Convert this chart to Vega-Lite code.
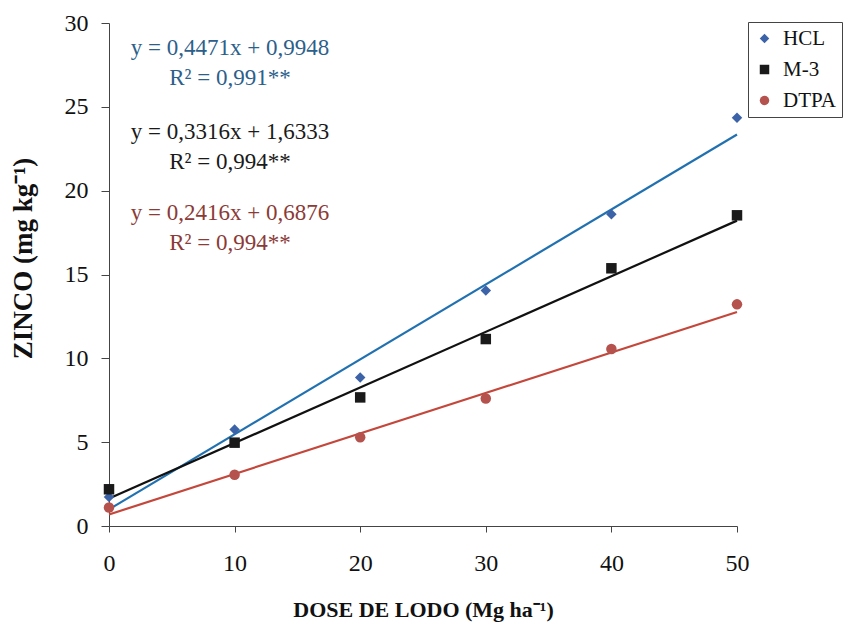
{
  "$schema": "https://vega.github.io/schema/vega-lite/v6.json",
  "width": 628,
  "height": 503,
  "autosize": {"type": "none"},
  "padding": {"left": 109, "top": 23, "right": 107, "bottom": 100},
  "background": "white",
  "config": {
    "view": {"stroke": null},
    "font": "Liberation Serif",
    "axis": {"grid": false, "domainColor": "#444", "tickColor": "#444", "labelColor": "#111", "titleColor": "#111", "labelFont": "Liberation Serif", "titleFont": "Liberation Serif", "labelFlush": false}
  },
  "datasets": {
    "pontos": [
      {"dose": 0, "zinco": 1.73, "extrator": "HCL"},
      {"dose": 10, "zinco": 5.75, "extrator": "HCL"},
      {"dose": 20, "zinco": 8.85, "extrator": "HCL"},
      {"dose": 30, "zinco": 14.05, "extrator": "HCL"},
      {"dose": 40, "zinco": 18.6, "extrator": "HCL"},
      {"dose": 50, "zinco": 24.35, "extrator": "HCL"},
      {"dose": 0, "zinco": 2.19, "extrator": "M-3"},
      {"dose": 10, "zinco": 4.97, "extrator": "M-3"},
      {"dose": 20, "zinco": 7.67, "extrator": "M-3"},
      {"dose": 30, "zinco": 11.15, "extrator": "M-3"},
      {"dose": 40, "zinco": 15.37, "extrator": "M-3"},
      {"dose": 50, "zinco": 18.53, "extrator": "M-3"},
      {"dose": 0, "zinco": 1.1, "extrator": "DTPA"},
      {"dose": 10, "zinco": 3.06, "extrator": "DTPA"},
      {"dose": 20, "zinco": 5.29, "extrator": "DTPA"},
      {"dose": 30, "zinco": 7.6, "extrator": "DTPA"},
      {"dose": 40, "zinco": 10.56, "extrator": "DTPA"},
      {"dose": 50, "zinco": 13.22, "extrator": "DTPA"}
    ],
    "ajuste": [
      {"dose": 0, "zinco": 0.9948, "extrator": "HCL"},
      {"dose": 50, "zinco": 23.3498, "extrator": "HCL"},
      {"dose": 0, "zinco": 1.6333, "extrator": "M-3"},
      {"dose": 50, "zinco": 18.2133, "extrator": "M-3"},
      {"dose": 0, "zinco": 0.6876, "extrator": "DTPA"},
      {"dose": 50, "zinco": 12.7676, "extrator": "DTPA"}
    ]
  },
  "layer": [
    {
      "data": {"name": "ajuste"},
      "transform": [{"filter": "datum.extrator === 'HCL'"}],
      "mark": {"type": "line", "strokeWidth": 2.2, "color": "#2171b0"},
      "encoding": {
        "x": {"field": "dose", "type": "quantitative", "scale": {"domain": [0, 50], "nice": false, "zero": false},
          "axis": {"values": [0, 10, 20, 30, 40, 50], "tickSize": 6, "labelPadding": 19, "labelFontSize": 24, "title": "DOSE DE LODO (Mg ha⁻¹)", "titleFontSize": 22, "titleFontWeight": "bold", "titlePadding": 24}},
        "y": {"field": "zinco", "type": "quantitative", "scale": {"domain": [0, 30], "nice": false},
          "axis": {"values": [0, 5, 10, 15, 20, 25, 30], "tickSize": 8, "labelPadding": 13, "labelFontSize": 24, "title": "ZINCO (mg kg⁻¹)", "titleFontSize": 27, "titleFontWeight": "bold", "titlePadding": 27, "titleY": 235}}
      }
    },
    {
      "data": {"name": "ajuste"},
      "transform": [{"filter": "datum.extrator === 'M-3'"}],
      "mark": {"type": "line", "strokeWidth": 2.2, "color": "#111111"},
      "encoding": {
        "x": {"field": "dose", "type": "quantitative"},
        "y": {"field": "zinco", "type": "quantitative"}
      }
    },
    {
      "data": {"name": "ajuste"},
      "transform": [{"filter": "datum.extrator === 'DTPA'"}],
      "mark": {"type": "line", "strokeWidth": 2.2, "color": "#c4473c"},
      "encoding": {
        "x": {"field": "dose", "type": "quantitative"},
        "y": {"field": "zinco", "type": "quantitative"}
      }
    },
    {
      "data": {"name": "pontos"},
      "mark": {"type": "point", "filled": true, "opacity": 1, "size": 110},
      "encoding": {
        "x": {"field": "dose", "type": "quantitative"},
        "y": {"field": "zinco", "type": "quantitative"},
        "color": {"field": "extrator", "type": "nominal", "scale": {"domain": ["HCL", "M-3", "DTPA"], "range": ["#3c62a8", "#1a1a1a", "#b5524d"]},
          "legend": {"title": null, "orient": "none", "legendX": 639, "legendY": -1, "labelFontSize": 21, "labelFont": "Liberation Serif", "labelColor": "#111", "symbolSize": 90, "rowPadding": 9, "padding": 6, "labelOffset": 8, "strokeColor": "#444", "fillColor": "white"}},
        "shape": {"field": "extrator", "type": "nominal", "scale": {"domain": ["HCL", "M-3", "DTPA"], "range": ["diamond", "square", "circle"]}}
      }
    },
    {
      "data": {"values": [{}]},
      "mark": {"type": "text", "align": "center", "baseline": "middle", "fontSize": 23, "lineHeight": 30, "color": "#2d5f8b", "text": ["y = 0,4471x + 0,9948", "R² = 0,991**"]},
      "encoding": {"x": {"datum": 9.63, "type": "quantitative"}, "y": {"datum": 28.5, "type": "quantitative"}}
    },
    {
      "data": {"values": [{}]},
      "mark": {"type": "text", "align": "center", "baseline": "middle", "fontSize": 23, "lineHeight": 30, "color": "#1a1a1a", "text": ["y = 0,3316x + 1,6333", "R² = 0,994**"]},
      "encoding": {"x": {"datum": 9.63, "type": "quantitative"}, "y": {"datum": 23.5, "type": "quantitative"}}
    },
    {
      "data": {"values": [{}]},
      "mark": {"type": "text", "align": "center", "baseline": "middle", "fontSize": 23, "lineHeight": 30, "color": "#8b3b37", "text": ["y = 0,2416x + 0,6876", "R² = 0,994**"]},
      "encoding": {"x": {"datum": 9.63, "type": "quantitative"}, "y": {"datum": 18.66, "type": "quantitative"}}
    }
  ]
}
